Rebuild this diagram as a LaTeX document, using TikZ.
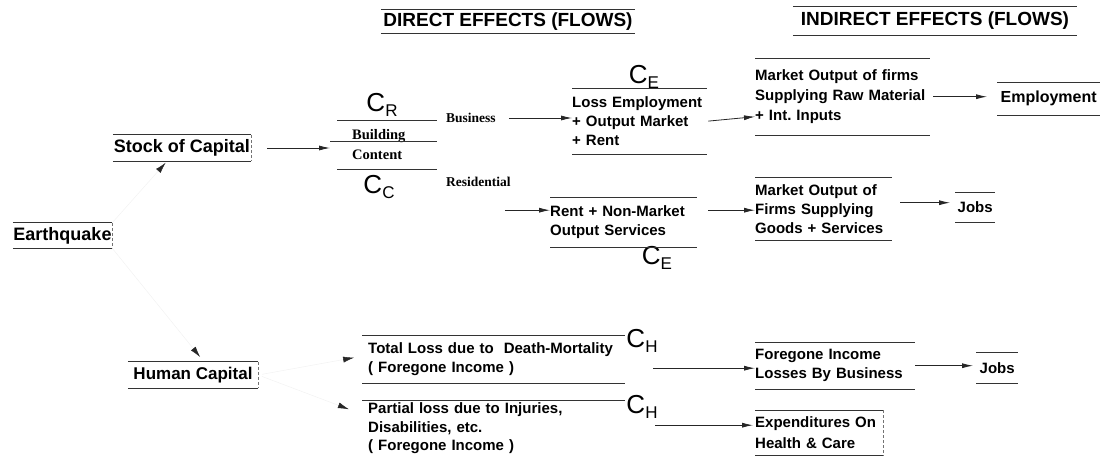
\documentclass[tikz,border=0pt]{standalone}
\usepackage{fontspec}
\setmainfont{Liberation Sans}
\newfontfamily\timesfont{Liberation Serif}
\usetikzlibrary{arrows.meta}

\newcommand{\csub}[1]{C\raisebox{-0.4ex}{\fontsize{17}{17}\selectfont #1}}

\tikzset{
	rule/.style={draw=black!80, line width=0.8pt},
	side/.style={draw=black!55, line width=0.6pt, dash pattern=on 3pt off 2pt},
	flow/.style={draw=black!85, line width=0.8pt, -{Latex[length=11pt,width=5pt]}},
	faded/.style={draw=black!5, line width=0.5pt, -{Latex[length=11pt,width=6pt,color=black!85]}},
	title/.style={font=\fontsize{19}{22}\selectfont\bfseries, inner sep=0pt},
	big/.style={font=\fontsize{18}{20}\selectfont\bfseries, inner sep=0pt},
	box/.style={anchor=north west, align=left, inner xsep=0pt, inner ysep=0pt, font=\fontsize{15}{19}\selectfont\bfseries},
	serifbox/.style={anchor=north west, align=left, inner ysep=0pt, font=\timesfont\bfseries\fontsize{14.5}{20}\selectfont},
	tag/.style={inner sep=0pt, font=\timesfont\bfseries\fontsize{13.5}{16}\selectfont},
	clabel/.style={inner sep=0pt, font=\fontsize{26}{26}\selectfont}
}

\begin{document}
\begin{tikzpicture}[x=1pt, y=-1pt]
		\useasboundingbox (0,0) rectangle (1100,466);

		% headings
		\node[title, minimum width=254pt, minimum height=23pt] (hdrD) at (508,21.5) {DIRECT EFFECTS (FLOWS)};
		\node[title, minimum width=284pt, minimum height=28pt] (hdrI) at (935,21) {INDIRECT EFFECTS (FLOWS)};

		% left column
		\node[big, minimum width=138pt, minimum height=26pt] (soc) at (182,148) {Stock of Capital};
		\node[big, minimum width=99pt, minimum height=25pt] (eq) at (62.5,235.5) {Earthquake};
		\node[big, font=\fontsize{17}{20}\selectfont\bfseries, minimum width=130pt, minimum height=26pt] (hc) at (193,375) {Human Capital};

		% capital stock split
		\node[serifbox, text width=70pt, inner xsep=15pt, minimum height=49pt] (bldg) at (337,120) {Building\\Content};
		\node[clabel] (cR) at (382,105) {\csub{R}};
		\node[clabel] (cC) at (379,187) {\csub{C}};
		\node[tag, anchor=west] (bus) at (446,118) {Business};
		\node[tag, anchor=west] (res) at (446,182) {Residential};

		% direct effects
		\node[box, text width=135pt, minimum height=66pt] (lem) at (572,88) {Loss Employment\\+ Output Market\\+ Rent};
		\node[clabel] (cE1) at (644,77) {\csub{E}};
		\node[box, text width=147pt, minimum height=50pt] (rnm) at (550,197) {Rent + Non-Market\\Output Services};
		\node[clabel] (cE2) at (657,258) {\csub{E}};
		\node[box, text width=251pt, inner xsep=6pt, minimum height=48pt] (tld) at (362,335) {Total Loss due to\ \ Death-Mortality\\( Foregone Income )};
		\node[clabel] (cH1) at (642,341) {\csub{H}};
		\node[box, font=\fontsize{15}{18.5}\selectfont\bfseries, text width=251pt, inner xsep=6pt, minimum height=56pt] (pli) at (362,400) {Partial loss due to Injuries,\\Disabilities, etc.\\( Foregone Income )};
		\node[clabel] (cH2) at (642,407) {\csub{H}};

		% indirect effects
		\node[box, font=\fontsize{15}{20}\selectfont\bfseries, text width=175pt, minimum height=77pt] (mof) at (755,58) {Market Output of firms\\Supplying Raw Material\\+ Int.\ Inputs};
		\node[box, font=\fontsize{16}{19}\selectfont\bfseries, align=center, text width=103pt, minimum height=33pt] (emp) at (997,82) {Employment};
		\node[box, text width=137pt, minimum height=63pt] (mog) at (755,177) {Market Output of\\Firms Supplying\\Goods + Services};
		\node[box, align=center, text width=40pt, minimum height=30pt] (jobsA) at (955,192) {Jobs};
		\node[box, text width=160pt, minimum height=47pt] (fib) at (755,342) {Foregone Income\\Losses By Business};
		\node[box, align=center, text width=42pt, minimum height=31pt] (jobsB) at (976,352) {Jobs};
		\node[box, font=\fontsize{15}{21}\selectfont\bfseries, text width=128pt, minimum height=45pt] (ehc) at (755,410) {Expenditures On\\Health \& Care};

		% box rules
		\foreach \n in {hdrD,hdrI,soc,eq,hc,bldg,lem,rnm,tld,mof,emp,mog,jobsA,fib,jobsB,ehc}
			\draw[rule] (\n.north west) -- (\n.north east) (\n.south west) -- (\n.south east);
		\draw[rule] (pli.north west) -- (pli.north east);
		\draw[rule] ([xshift=-7pt,yshift=3.5pt]bldg.west) -- ([yshift=3.5pt]bldg.east);
		\foreach \n in {eq,soc,hc,ehc}
			\draw[side] (\n.north east) -- (\n.south east);

		% connectors
		\draw[faded, shorten >=2pt] (eq.north east) -- ([xshift=-15pt]soc.south);
		\draw[faded, shorten >=6pt] (eq.south east) -- ([xshift=11pt]hc.north);
		\draw[faded, shorten <=4pt, shorten >=8pt] (hc.east) -- ([yshift=3pt]tld.west);
		\draw[faded, shorten <=4pt, shorten >=14pt] (hc.east) -- ([yshift=14pt]pli.west);
		\draw[flow, shorten <=16pt, shorten >=7pt] (soc.east) -- (soc.east -| bldg.west);
		\draw[flow, shorten <=13pt] (bus.east) -- (bus.east -| lem.west);
		\draw[flow, shorten <=-6pt] ([yshift=12pt]rnm.west -| res.east) -- ([yshift=12pt]rnm.west);
		\draw[flow, shorten <=1pt] (lem.east) -- ([yshift=-20pt]mof.west);
		\draw[flow, shorten <=3pt, shorten >=10pt] (mof.east) -- (mof.east -| emp.west);
		\draw[flow, shorten <=11pt] ([yshift=12pt]rnm.east) -- ([yshift=12pt]rnm.east -| mog.west);
		\draw[flow, shorten <=8pt, shorten >=5pt] ([yshift=6pt]mog.east) -- ([yshift=6pt]mog.east -| jobsA.west);
		\draw[flow, shorten <=28pt] ([yshift=-9pt]tld.east) -- ([yshift=-9pt]tld.east -| fib.west);
		\draw[flow, shorten >=3pt] (fib.east) -- (fib.east -| jobsB.west);
		\draw[flow, shorten <=30pt, shorten >=2pt] ([yshift=3pt]pli.east) -- ([yshift=3pt]pli.east -| ehc.west);
	\end{tikzpicture}
\end{document}
